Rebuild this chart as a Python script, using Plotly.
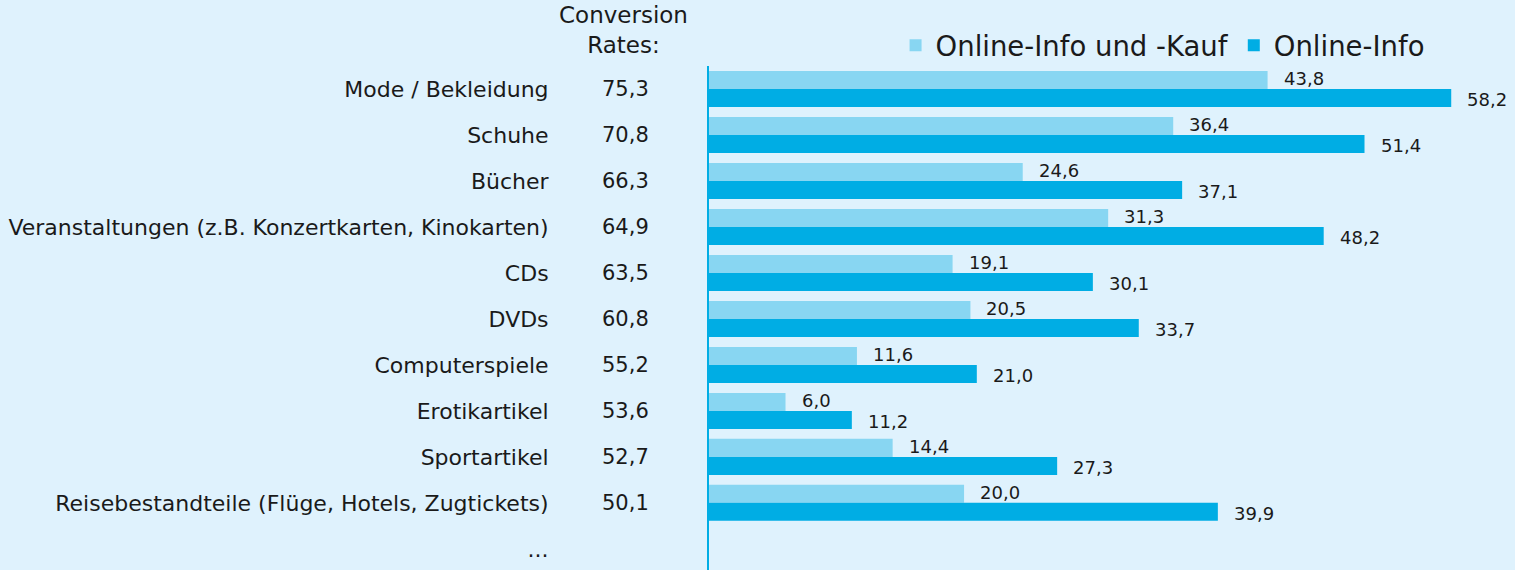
import plotly.graph_objects as go

categories = [
    "Mode / Bekleidung",
    "Schuhe",
    "Bücher",
    "Veranstaltungen (z.B. Konzertkarten, Kinokarten)",
    "CDs",
    "DVDs",
    "Computerspiele",
    "Erotikartikel",
    "Sportartikel",
    "Reisebestandteile (Flüge, Hotels, Zugtickets)",
]
extra_row = "..."
conversion_rates = [75.3, 70.8, 66.3, 64.9, 63.5, 60.8, 55.2, 53.6, 52.7, 50.1]
info_und_kauf = [43.8, 36.4, 24.6, 31.3, 19.1, 20.5, 11.6, 6.0, 14.4, 20.0]
info_only = [58.2, 51.4, 37.1, 48.2, 30.1, 33.7, 21.0, 11.2, 27.3, 39.9]
series_names = ["Online-Info und -Kauf", "Online-Info"]
header_text = "Conversion<br>Rates:"

LIGHT = "#88d6f2"
DARK = "#00ade4"
BG = "#dff2fd"
TXT = "#1a1a1a"
FONT = "DejaVu Sans, Verdana, sans-serif"

def fmt(v):
    return f"{v:.1f}".replace(".", ",")

fig = go.Figure()
fig.add_trace(go.Bar(y=categories, x=info_und_kauf, orientation="h", name=series_names[0],
                     marker=dict(color=LIGHT, line=dict(width=0)), hoverinfo="skip"))
fig.add_trace(go.Bar(y=categories, x=info_only, orientation="h", name=series_names[1],
                     marker=dict(color=DARK, line=dict(width=0)), hoverinfo="skip"))
# invisible point so the "..." row label appears
fig.add_trace(go.Scatter(y=[extra_row], x=[0], mode="markers", showlegend=False,
                         marker=dict(opacity=0), hoverinfo="skip"))

annotations = []
for c, a, b, r in zip(categories, info_und_kauf, info_only, conversion_rates):
    annotations.append(dict(x=a, y=c, xref="x", yref="y", text=fmt(a), showarrow=False,
                            xanchor="left", xshift=14, yshift=10,
                            font=dict(size=18, color=TXT, family=FONT)))
    annotations.append(dict(x=b, y=c, xref="x", yref="y", text=fmt(b), showarrow=False,
                            xanchor="left", xshift=14, yshift=-11,
                            font=dict(size=18, color=TXT, family=FONT)))
    annotations.append(dict(x=-0.104, y=c, xref="paper", yref="y", text=fmt(r), showarrow=False,
                            xanchor="center", font=dict(size=21, color=TXT, family=FONT)))
annotations.append(dict(x=-0.106, y=1.072, xref="paper", yref="paper", text=header_text,
                        showarrow=False, xanchor="center", yanchor="middle",
                        font=dict(size=23, color=TXT, family=FONT)))

fig.update_layout(
    width=1515, height=570,
    margin=dict(l=709, r=0, t=66, b=0, pad=0),
    paper_bgcolor=BG, plot_bgcolor=BG,
    barmode="group", bargap=0.217, bargroupgap=0,
    showlegend=True,
    legend=dict(orientation="h", x=0.894, xanchor="right", y=1.041, yanchor="middle",
                font=dict(size=27.5, color=TXT, family=FONT), bgcolor="rgba(0,0,0,0)",
                traceorder="normal", itemwidth=30),
    xaxis=dict(range=[0, 63.2], showgrid=False, zeroline=False, showticklabels=False,
               ticks="", showline=False, fixedrange=True),
    yaxis=dict(categoryorder="array", categoryarray=categories + [extra_row],
               type="category", range=[10.46, -0.5], showgrid=False, zeroline=False,
               ticks="", showline=True, linecolor=DARK, linewidth=2,
               ticklabelstandoff=154, fixedrange=True,
               tickfont=dict(size=22, color=TXT, family=FONT)),
    annotations=annotations,
)
fig.write_html("out.html", config={"displayModeBar": False},
               post_script="document.body.style.margin='0';document.body.style.background='" + BG + "';")
